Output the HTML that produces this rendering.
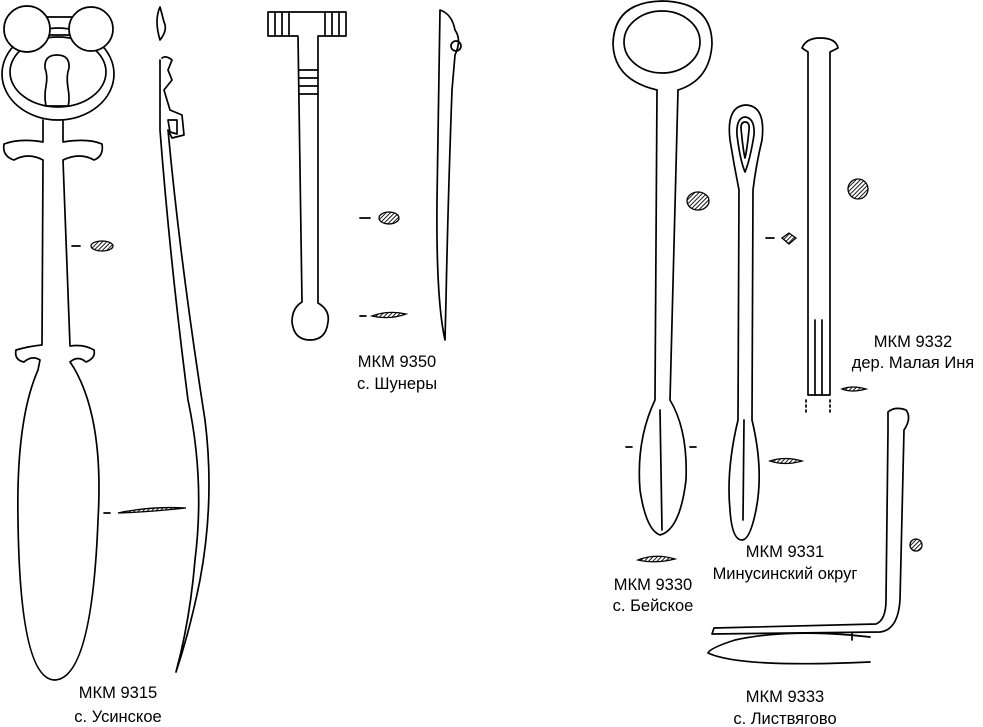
<!DOCTYPE html>
<html><head><meta charset="utf-8"><style>
html,body{margin:0;padding:0;background:#fff;}
svg{display:block}
text{font-family:"Liberation Sans",Arial,sans-serif;font-size:16.5px;fill:#000;text-anchor:middle}
.s{fill:none;stroke:#000;stroke-width:1.7;stroke-linejoin:round;stroke-linecap:round}
.h{stroke:#000;stroke-width:1.3}
</style></head><body>
<svg width="983" height="727" viewBox="0 0 983 727">
<defs><pattern id="p" width="3" height="3" patternUnits="userSpaceOnUse" patternTransform="rotate(45)"><rect width="3" height="3" fill="#fff"/><line x1="0" y1="0" x2="0" y2="3" stroke="#000" stroke-width="1.8"/></pattern></defs>

<!-- 9315 -->
<ellipse class="s" cx="58" cy="74" rx="56" ry="46"/>
<ellipse class="s" cx="58" cy="72" rx="48" ry="35"/>
<path class="s" d="M45,17 L72,17 M45,35 L72,35"/>
<circle class="s" cx="27" cy="29" r="23" style="fill:#fff"/>
<circle class="s" cx="91" cy="29" r="22" style="fill:#fff"/>
<path class="s" d="M45,68 Q44,55 57,55 Q70,55 69,68 Q66,76 68,88 Q70,100 68,106 L46,106 Q44,96 46,86 Q48,76 45,68Z"/>
<path class="s" d="M43,120 L43,142 Q20,138 4,144 Q2,156 14,160 Q28,152 43,160 L42,345 Q30,346 16,350 Q14,360 24,362 Q32,355 40,360 L38,370 Q16,420 18,520 Q20,680 55,680 Q92,678 98,520 Q104,420 74,368 L70,362 Q78,355 86,362 Q96,358 94,350 Q84,344 70,346 L63,160 Q80,152 94,160 Q104,156 102,144 Q88,138 63,142 L63,120"/>
<path class="s" d="M160,7 Q154,20 160,40 Q168,30 164,22 Q162,14 160,7Z"/>
<path class="s" d="M162,58 Q166,55 172,60 L168,70 L172,80 L164,90 L170,110 L182,115 L184,135 L172,138 L168,130 Q180,260 205,420 Q215,500 200,580 Q190,630 176,672 M176,672 Q190,620 195,560 Q205,480 188,400 Q170,260 160,130 L160,60"/>
<path class="s" d="M168,120 L177,120 L177,134 L170,132Z"/>
<ellipse cx="102" cy="246" rx="11" ry="5" class="h" style="fill:url(#p)"/>
<line class="s" x1="72" y1="246" x2="80" y2="246"/>
<path class="h" style="fill:url(#p)" d="M118,513 Q150,506 186,508 Q150,512 118,513Z"/>
<line class="s" x1="104" y1="513" x2="110" y2="513"/>
<text x="118" y="698">МКМ 9315</text><text x="118" y="722">с. Усинское</text>

<!-- 9350 -->
<path class="s" d="M268,12 L346,12 L346,36 L318,36 L318,303 Q330,310 328,322 Q326,340 310,340 Q294,340 292,322 Q292,308 302,302 L298,36 L268,36Z"/>
<path class="s" d="M275,12v24M282,12v24M289,12v24M325,12v24M332,12v24M339,12v24M299,70h19M299,78h19M299,86h19M300,94h18"/>
<path class="s" d="M440,10 Q452,14 455,30 Q462,40 455,55 L452,90 Q448,200 446,300 L445,340 Q436,300 437,200 L440,10Z"/>
<circle class="s" cx="456" cy="46" r="5"/>
<ellipse cx="389" cy="218" rx="10" ry="6" class="h" style="fill:url(#p)"/>
<line class="s" x1="360" y1="218" x2="370" y2="218"/>
<path class="h" style="fill:url(#p)" d="M372,316 Q388,310 406,314 Q390,320 372,316Z"/>
<line class="s" x1="360" y1="316" x2="366" y2="316"/>
<text x="397" y="367">МКМ 9350</text><text x="397" y="389">с. Шунеры</text>

<!-- 9330 -->
<path class="s" d="M657,90 Q614,80 613,44 Q614,2 662,1 Q712,2 712,44 Q710,80 678,90"/>
<ellipse class="s" cx="662" cy="42" rx="38" ry="31"/>
<path class="s" d="M657,90 L655,400 Q636,440 640,490 Q646,530 660,535 Q680,530 686,480 Q688,430 670,400 L678,90"/>
<path class="s" d="M660,410 L662,530"/>
<ellipse cx="698" cy="201" rx="11" ry="9" class="h" style="fill:url(#p)"/>
<line class="s" x1="626" y1="447" x2="632" y2="447"/><line class="s" x1="690" y1="447" x2="696" y2="447"/>
<path class="h" style="fill:url(#p)" d="M638,560 Q655,553 675,559 Q655,564 638,560Z"/>
<text x="653" y="590">МКМ 9330</text><text x="653" y="611">с. Бейское</text>

<!-- 9331 -->
<path class="s" d="M730,140 Q726,106 746,105 Q766,106 762,140 Q756,165 753,190 L752,420 Q764,470 756,510 Q750,540 742,540 Q732,540 730,510 Q726,470 738,420 L739,190 Q734,165 730,140Z"/>
<path class="s" d="M737,135 Q736,118 745,117 Q755,118 754,135 Q750,160 745,172 Q740,160 737,135Z"/>
<path class="s" d="M741,128 Q741,122 745,122 Q750,122 749,130 Q747,150 745,158 Q743,150 741,128Z"/>
<line class="s" x1="744" y1="420" x2="743" y2="520"/>
<path class="h" style="fill:url(#p)" d="M782,238 L789,233 L796,238 L789,244Z"/>
<line class="s" x1="766" y1="238" x2="774" y2="238"/>
<path class="h" style="fill:url(#p)" d="M770,461 Q785,456 802,461 Q785,466 770,461Z"/>
<text x="785" y="557">МКМ 9331</text><text x="785" y="579">Минусинский округ</text>

<!-- 9332 -->
<path class="s" d="M802,48 Q806,38 820,38 Q836,38 838,48 L830,52 L830,395 L808,395 L808,52Z"/>
<path class="s" d="M815,320 L815,395 M822,320 L822,395"/>
<path class="s" d="M806,400 L806,412 M830,400 L830,412" stroke-dasharray="2 3"/>
<ellipse cx="858" cy="189" rx="10" ry="10" class="h" style="fill:url(#p)"/>
<path class="h" style="fill:url(#p)" d="M842,389 Q852,385 866,389 Q852,393 842,389Z"/>
<text x="913" y="347">МКМ 9332</text><text x="913" y="368">дер. Малая Иня</text>

<!-- 9333 -->
<path class="s" d="M888,412 Q895,406 906,410 Q912,418 904,430 L900,600 Q898,630 880,632 L712,634 L714,628 L876,624 Q886,620 886,600 L888,430Z"/>
<path class="s" d="M870,637 Q790,628 735,640 Q710,648 708,653 Q740,668 870,662"/>
<line class="s" x1="852" y1="633" x2="852" y2="640"/>
<ellipse cx="916" cy="545" rx="6" ry="6" class="h" style="fill:url(#p)"/>
<text x="785" y="702">МКМ 9333</text><text x="785" y="724">с. Листвягово</text>
</svg>
</body></html>
